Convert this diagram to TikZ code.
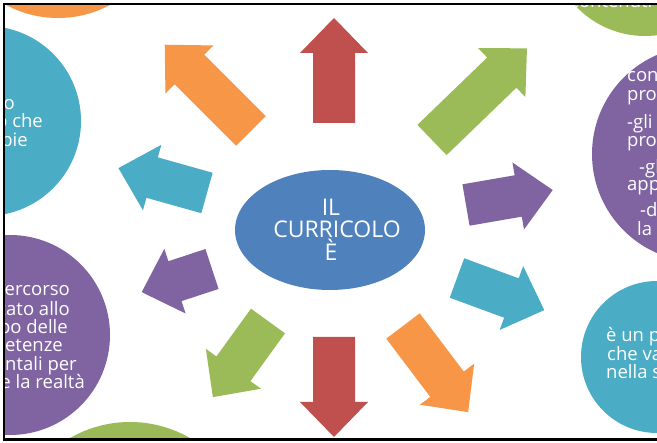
\documentclass[tikz,border=0pt]{standalone}
\usepackage{fontspec}
\setmainfont{Open Sans}
\usetikzlibrary{shapes.geometric}
\definecolor{offblue}{HTML}{4F81BD}
\definecolor{offred}{HTML}{C0504D}
\definecolor{offorange}{HTML}{F79646}
\definecolor{offgreen}{HTML}{9BBB59}
\definecolor{offteal}{HTML}{4BACC6}
\definecolor{offpurple}{HTML}{8064A2}
\newcommand{\blockarrow}[5]{%
  \fill[#1,shift={(#2,#3)},rotate=#4] (0,-21) -- ({#5-35},-21) -- ({#5-35},-34) -- (#5,0)
    -- ({#5-35},34) -- ({#5-35},21) -- (0,21) -- cycle;}
\begin{document}
\begin{tikzpicture}[x=1pt,y=-1pt,
  txt/.style={text=white,font=\fontsize{18.5}{18.6}\selectfont,inner sep=0pt},
  txtE/.style={txt,anchor=base east},
  txtW/.style={txt,anchor=base west},
  ctxt/.style={text=white,font=\fontsize{23}{24}\selectfont,inner sep=0pt,anchor=base},
  centre/.style={ellipse,fill=offblue,minimum width=190pt,minimum height=120pt,inner sep=0pt}]
\useasboundingbox (0,0) rectangle (657,443);
\fill[white] (0,0) rectangle (657,443);
\begin{scope}
\clip (4,4) rectangle (657,439.5);
% circles
\fill[offorange] (58,-92) circle[radius=110pt];
\fill[offteal] (-14,121) circle[radius=95pt];
\fill[offpurple] (10,335) circle[radius=100pt];
\fill[offgreen] (130,542) circle[radius=120pt];
\fill[offgreen] (645,-59) circle[radius=95pt];
\fill[offpurple] (700,154) circle[radius=108pt];
\fill[offteal] (657,357) circle[radius=76pt];
% circle texts
\node[txtW] (g1) at (570,8) {contenuti necessari};
\node[txtE] (a1) at (15,110) {un lavoro};
\node[txtE] (a2) at (43,128) {condiviso che};
\node[txtE] (a3) at (28,147) {si compie};
\node[txtE] (b1) at (70,296) {è un percorso};
\node[txtE] (b2) at (70,316) {finalizzato allo};
\node[txtE] (b3) at (68,334) {sviluppo delle};
\node[txtE] (b4) at (63,352) {competenze};
\node[txtE] (b5) at (77,371) {fondamentali per};
\node[txtE] (b6) at (85,389) {comprendere la realtà};
\node[txtW] (c1) at (627,82) {conoscenze e};
\node[txtW] (c2) at (627,101) {processi};
\node[txtW] (c3) at (627,129) {-gli obiettivi};
\node[txtW] (c4) at (627,147) {programmati};
\node[txtW] (c5) at (639,174) {-gli};
\node[txtW] (c6) at (627,191) {apprendimenti};
\node[txtW] (c7) at (640,217) {-di tutta};
\node[txtW] (c8) at (637,236) {la comunità};
\node[txtW] (d1) at (606,342) {è un percorso};
\node[txtW] (d2) at (607,361) {che va avanti};
\node[txtW] (d3) at (606,379) {nella scuola};
% arrows
\blockarrow{offred}{334}{123}{90}{105}
\blockarrow{offred}{334}{337}{-90}{100}
\blockarrow{offorange}{251}{131}{135}{122}
\blockarrow{offgreen}{432}{140}{44}{132}
\blockarrow{offteal}{207}{193}{164.3}{92}
\blockarrow{offpurple}{212}{269}{198.2}{74}
\blockarrow{offgreen}{268}{321}{-125.9}{94}
\blockarrow{offorange}{403}{326}{-52.9}{108}
\blockarrow{offpurple}{466}{205}{9.8}{88}
\blockarrow{offteal}{457}{278}{-20.2}{93}
% centre
\node[centre] (c) at (330,230) {};
\node[ctxt] (c1t) at (331,216) {IL};
\node[ctxt] (c2t) at (337,238) {CURRICOLO};
\node[ctxt] (c3t) at (331,261) {È};
\end{scope}
\draw[line width=2.5pt] (657,4) -- (4,4) -- (4,439.5) -- (657,439.5);
\end{tikzpicture}
\end{document}
